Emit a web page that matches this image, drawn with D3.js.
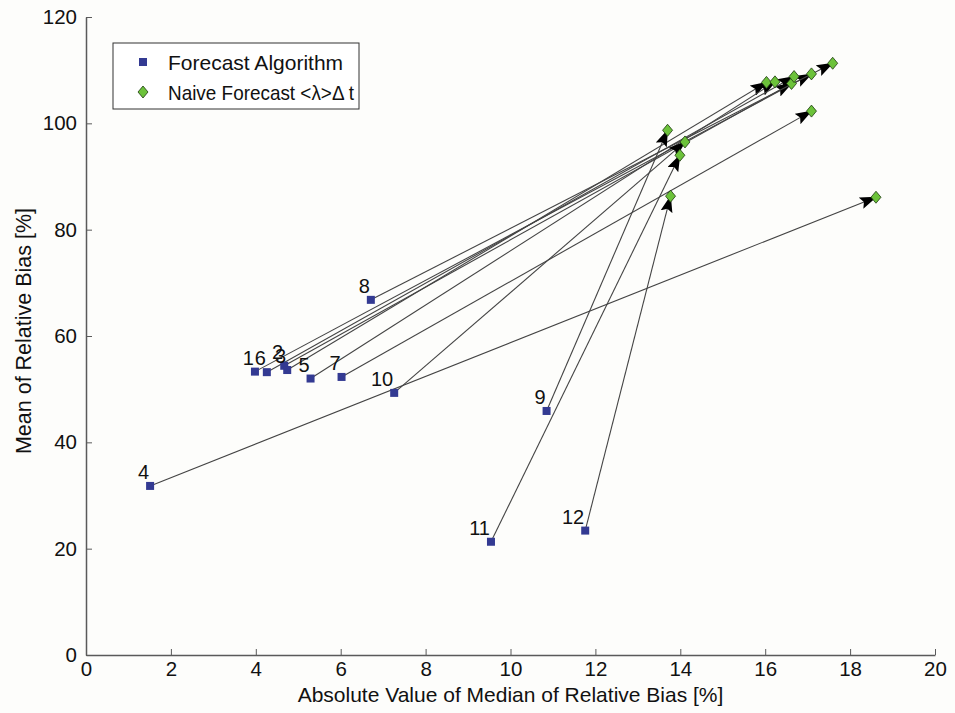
<!DOCTYPE html>
<html>
<head>
<meta charset="utf-8">
<script src="https://cdn.jsdelivr.net/npm/d3@7"></script>
<style>
  body { margin: 0; background: #fdfdfb; }
  text { font-family: "Liberation Sans", Arial, sans-serif; fill: #111; }
</style>
</head>
<body>
<div id="chart"></div>
<script>
// forecast algorithm result per case
var caseIds = [1, 2, 3, 4, 5, 6, 7, 8, 9, 10, 11, 12];
var algoX = [3.98, 4.67, 4.74, 1.51, 5.29, 4.26, 6.02, 6.71, 10.85, 7.26, 9.54, 11.76];
var algoY = [53.3, 54.4, 53.6, 31.8, 52.0, 53.2, 52.3, 66.8, 45.9, 49.3, 21.3, 23.4];
// naive forecast <lambda> delta t per case
var naiveX = [17.09, 16.62, 16.03, 18.61, 16.23, 16.68, 17.09, 17.59, 13.70, 14.11, 13.99, 13.77];
var naiveY = [109.3, 107.5, 107.7, 86.1, 107.8, 108.8, 102.3, 111.3, 98.7, 96.5, 94.0, 86.3];

var xTicks = [0, 2, 4, 6, 8, 10, 12, 14, 16, 18, 20];
var yTicks = [0, 20, 40, 60, 80, 100, 120];

var margin = { top: 17, left: 86, bottom: 58, right: 20 },
    width = 955 - margin.left - margin.right,
    height = 713 - margin.top - margin.bottom;

var svg = d3.select('#chart').append('svg')
    .attr('width', 955)
    .attr('height', 713);

var defs = svg.append('defs');
defs.append('marker')
    .attr('id', 'head')
    .attr('markerUnits', 'userSpaceOnUse')
    .attr('viewBox', '0 0 17 12')
    .attr('refX', 16)
    .attr('refY', 6)
    .attr('markerWidth', 17)
    .attr('markerHeight', 12)
    .attr('orient', 'auto')
    .append('path')
    .attr('d', 'M0,0 L17,6 L0,12 L3,6 Z')
    .attr('fill', '#000');

var g = svg.append('g')
    .attr('transform', 'translate(' + margin.left + ',' + margin.top + ')');

var x = d3.scaleLinear().domain([0, 20]).range([0, width]);
var y = d3.scaleLinear().domain([0, 120]).range([height, 0]);

var data = caseIds.map((id, i) => ({
    id: id,
    ax: algoX[i], ay: algoY[i],
    nx: naiveX[i], ny: naiveY[i]
}));

// axes, ticks pointing inward
var xAxis = d3.axisBottom(x).tickValues(xTicks).tickSizeInner(-6).tickSizeOuter(0).tickPadding(7);
var yAxis = d3.axisLeft(y).tickValues(yTicks).tickSizeInner(-6).tickSizeOuter(0).tickPadding(9);

var gx = g.append('g')
    .attr('transform', 'translate(0,' + height + ')')
    .call(xAxis);
var gy = g.append('g').call(yAxis);

[gx, gy].forEach(a => {
    a.select('.domain').attr('stroke', '#5a5a5a').attr('stroke-width', 1.5);
    a.selectAll('.tick line').attr('stroke', '#5a5a5a');
    a.selectAll('.tick text')
        .style('font-size', '20.5px')
        .attr('fill', '#111');
});
gx.selectAll('.tick text').attr('dy', '0.7em');

// arrows from algorithm to naive forecast
g.selectAll('.arrow')
    .data(data)
    .enter()
    .append('line')
    .attr('class', 'arrow')
    .attr('x1', d => x(d.ax))
    .attr('y1', d => y(d.ay))
    .attr('x2', d => x(d.nx))
    .attr('y2', d => y(d.ny))
    .attr('stroke', '#444')
    .attr('stroke-width', 1.1)
    .attr('marker-end', 'url(#head)');

var sq = 8;
g.selectAll('.algo')
    .data(data)
    .enter()
    .append('rect')
    .attr('class', 'algo')
    .attr('x', d => x(d.ax) - sq / 2)
    .attr('y', d => y(d.ay) - sq / 2)
    .attr('width', sq)
    .attr('height', sq)
    .attr('fill', '#333a92');

var diamond = 'M0,-6 L5,0 L0,6 L-5,0 Z';
g.selectAll('.naive')
    .data(data)
    .enter()
    .append('path')
    .attr('class', 'naive')
    .attr('d', diamond)
    .attr('transform', d => 'translate(' + x(d.nx) + ',' + y(d.ny) + ')')
    .attr('fill', '#6cc23a')
    .attr('stroke', '#1d3a10')
    .attr('stroke-width', 0.8);

g.selectAll('.name')
    .data(data)
    .enter()
    .append('text')
    .attr('class', 'name')
    .attr('x', d => x(d.ax) - 1)
    .attr('y', d => y(d.ay) - 7)
    .attr('text-anchor', 'end')
    .style('font-size', '20px')
    .text(d => d.id);

// axis titles
svg.append('text')
    .attr('x', margin.left + width / 2)
    .attr('y', 702)
    .attr('text-anchor', 'middle')
    .style('font-size', '21px')
    .text('Absolute Value of Median of Relative Bias [%]');

svg.append('text')
    .attr('transform', 'translate(31,' + 331 + ') rotate(-90)')
    .attr('text-anchor', 'middle')
    .style('font-size', '21.5px')
    .text('Mean of Relative Bias [%]');

// legend
var legend = svg.append('g').attr('transform', 'translate(113,43)');
legend.append('rect')
    .attr('width', 246)
    .attr('height', 66)
    .attr('fill', '#fff')
    .attr('stroke', '#333')
    .attr('stroke-width', 1);
legend.append('rect')
    .attr('x', 26).attr('y', 15)
    .attr('width', sq).attr('height', sq)
    .attr('fill', '#333a92');
legend.append('path')
    .attr('d', diamond)
    .attr('transform', 'translate(30,49)')
    .attr('fill', '#6cc23a')
    .attr('stroke', '#1d3a10')
    .attr('stroke-width', 0.8);
legend.append('text')
    .attr('x', 55).attr('y', 27)
    .style('font-size', '21px')
    .text('Forecast Algorithm');
legend.append('text')
    .attr('x', 55).attr('y', 57)
    .style('font-size', '21px')
    .attr('textLength', 186)
    .attr('lengthAdjust', 'spacingAndGlyphs')
    .text('Naive Forecast <λ>Δ t');
</script>
</body>
</html>
